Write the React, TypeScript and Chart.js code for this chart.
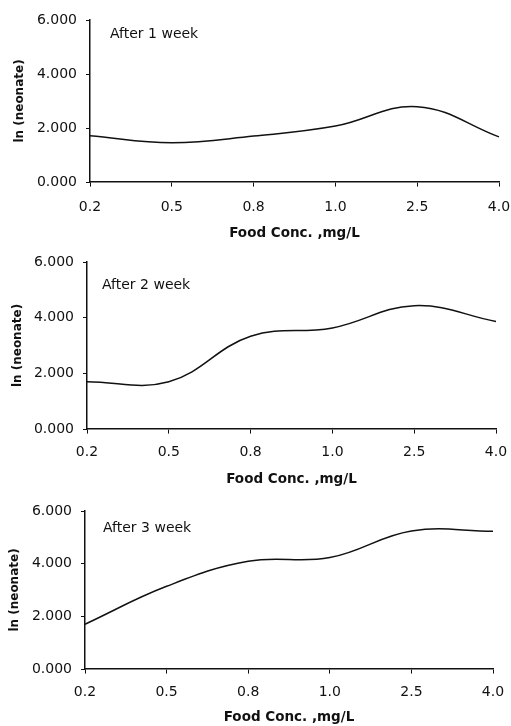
import React, { useEffect, useRef } from "react";
import { Chart, registerables } from "chart.js";

Chart.register(...registerables);

const categories = ["0.2", "0.5", "0.8", "1.0", "2.5", "4.0"];
const week1 = [1.71, 1.45, 1.7, 2.07, 2.79, 1.67];
const week2 = [1.7, 1.7, 3.33, 3.63, 4.43, 3.86];
const week3 = [1.7, 3.14, 4.09, 4.23, 5.24, 5.23];
const panelLabels = ["After 1 week", "After 2 week", "After 3 week"];
const xTitle = "Food Conc. ,mg/L";
const yTitle = "ln (neonate)";
const yMin = 0;
const yMax = 6;
const yStep = 2;

const FONT = "'DejaVu Sans', 'Liberation Sans', Arial, sans-serif";

type Panel = {
  values: number[];
  label: string;
  top: number;
  height: number;
  padTop: number;
  padRight: number;
  axisLeft: number;
  xAxisHeight: number;
  xTickGap: number;
  titleBottomPad: number;
  yTitlePad: number;
  textDx: number;
  textDy: number;
};

const panels: Panel[] = [
  { values: week1, label: panelLabels[0], top: 0, height: 246, padTop: 20, padRight: 12, axisLeft: 90, xAxisHeight: 64, xTickGap: 17, titleBottomPad: 4, yTitlePad: 13, textDx: 20, textDy: 14.5 },
  { values: week2, label: panelLabels[1], top: 246, height: 246, padTop: 16, padRight: 15, axisLeft: 87, xAxisHeight: 63, xTickGap: 15, titleBottomPad: 4, yTitlePad: 11, textDx: 15, textDy: 23 },
  { values: week3, label: panelLabels[2], top: 492, height: 234, padTop: 19, padRight: 18, axisLeft: 85, xAxisHeight: 57, xTickGap: 15, titleBottomPad: 0, yTitlePad: 8, textDx: 18, textDy: 17 },
];

function PanelChart({ p }: { p: Panel }) {
  const ref = useRef<HTMLCanvasElement | null>(null);
  useEffect(() => {
    if (!ref.current) return;
    const annot = {
      id: "panelText",
      afterDraw(chart: any) {
        const { ctx, chartArea } = chart;
        ctx.save();
        ctx.fillStyle = "#111";
        ctx.font = `14px ${FONT}`;
        ctx.textAlign = "left";
        ctx.textBaseline = "middle";
        ctx.fillText(p.label, chartArea.left + p.textDx, chartArea.top + p.textDy);
        ctx.restore();
      },
    };
    const chart = new Chart(ref.current, {
      type: "line",
      data: {
        labels: categories,
        datasets: [
          {
            data: p.values,
            borderColor: "#111",
            borderWidth: 1.5,
            pointRadius: 0,
            tension: 0.4,
            fill: false,
          },
        ],
      },
      options: {
        responsive: false,
        animation: false,
        layout: { padding: { top: p.padTop, right: p.padRight, left: 0, bottom: 0 } },
        plugins: { legend: { display: false }, tooltip: { enabled: false }, title: { display: false } },
        scales: {
          x: {
            type: "category",
            offset: false,
            grid: {
              display: true,
              drawOnChartArea: false,
              drawTicks: true,
              tickLength: p.xTickGap,
              tickBorderDash: [4, 60],
              color: "#111",
            },
            border: { display: true, color: "#111", width: 1.6 },
            ticks: { color: "#111", font: { family: FONT, size: 14 }, padding: 0, autoSkip: false, maxRotation: 0 },
            title: { display: true, text: xTitle, color: "#111", font: { family: FONT, size: 13.5, weight: "bold" }, padding: { top: 0, bottom: p.titleBottomPad } },
            afterFit: (s: any) => { s.height = p.xAxisHeight; },
          },
          y: {
            min: yMin,
            max: yMax,
            grid: {
              display: true,
              drawOnChartArea: false,
              drawTicks: true,
              tickLength: 13,
              tickBorderDash: [4, 60],
              tickBorderDashOffset: 55,
              color: "#111",
            },
            border: { display: true, color: "#111", width: 1.5 },
            ticks: { stepSize: yStep, color: "#111", font: { family: FONT, size: 14 }, padding: 0, callback: (v: any) => Number(v).toFixed(3) },
            title: { display: true, text: yTitle, color: "#111", font: { family: FONT, size: 12, weight: "bold" }, padding: { top: p.yTitlePad, bottom: 0 } },
            afterFit: (s: any) => { s.width = p.axisLeft; },
          },
        },
      },
      plugins: [annot],
    } as any);
    return () => chart.destroy();
  }, [p]);
  return (
    <canvas
      ref={ref}
      width={511}
      height={p.height}
      style={{ position: "absolute", left: 0, top: p.top, width: 511, height: p.height }}
    />
  );
}

export default function App() {
  return (
    <div style={{ position: "absolute", left: 0, top: 0, width: 511, height: 726, background: "#fff" }}>
      {panels.map((p, i) => (
        <PanelChart key={i} p={p} />
      ))}
    </div>
  );
}
